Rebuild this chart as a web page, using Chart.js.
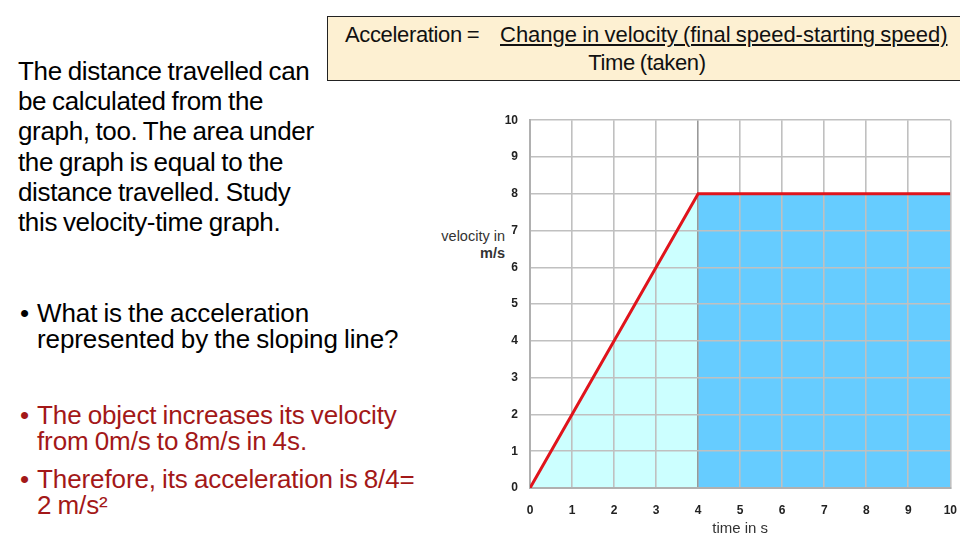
<!DOCTYPE html>
<html>
<head>
<meta charset="utf-8">
<script src="https://cdn.jsdelivr.net/npm/chart.js@4.4.1/dist/chart.umd.min.js"></script>
<style>
  body { margin: 0; width: 960px; height: 540px; overflow: hidden; background: #fff; font-family: "Liberation Sans", Arial, sans-serif; position: relative; }
  .txt { position: absolute; white-space: pre; font-size: 26px; letter-spacing: -0.35px; word-spacing: -1px; color: #000; }
  .blt { letter-spacing: -0.1px; }
  .red { color: #a31818; }
  .dot { position: absolute; left: -17px; top: 0; }
  #formula { position: absolute; left: 327px; top: 16px; width: 660px; height: 63px; background: #fdf0d2; border: 1px solid #222; }
  .ftxt { position: absolute; white-space: pre; font-size: 22px; letter-spacing: -0.35px; word-spacing: -1px; color: #111; line-height: 24px; }
  .ylab { position: absolute; font-size: 14.5px; color: #333; text-align: right; width: 120px; line-height: 17px; }
  #chart { position: absolute; left: 490px; top: 101px; }
</style>
</head>
<body>
<div class="txt" style="left:18px; top:56px; line-height:30.2px;">The distance travelled can
be calculated from the
graph, too. The area under
the graph is equal to the
distance travelled. Study
this velocity-time graph.</div>

<div class="txt blt" style="left:37px; top:300px; line-height:26px;"><span class="dot">•</span>What is the acceleration
represented by the sloping line?</div>

<div class="txt blt red" style="left:37px; top:402px; line-height:26px;"><span class="dot">•</span>The object increases its velocity
from 0m/s to 8m/s in 4s.</div>
<div class="txt blt red" style="left:37px; top:466px; line-height:26px;"><span class="dot">•</span>Therefore, its acceleration is 8/4=
2 m/s²</div>

<div id="formula">
  <div class="ftxt" style="left:17px; top:6px;">Acceleration =</div>
  <div class="ftxt" style="left:172px; top:6px; letter-spacing:0px; text-decoration: underline; text-decoration-thickness: 2px; text-underline-offset: 2px;">Change in velocity (final speed-starting speed)</div>
  <div class="ftxt" style="left:219px; top:34px; width:200px; text-align:center;">Time (taken)</div>
</div>

<div class="ylab" style="left:385px; top:228px;">velocity in</div>
<div class="ylab" style="left:385px; top:245px; font-weight:bold;">m/s</div>

<canvas id="chart" width="482" height="439"></canvas>

<script>
// velocity-time graph: speeds up for 4 s, then steady
const times = [0, 4, 10];
const velocities = [0, 8, 8];
const xTitle = 'time in s';

const toPoints = (from, to) => times.slice(from, to).map((t, i) => ({x: t, y: velocities[from + i]}));

const ctx = document.getElementById('chart').getContext('2d');

new Chart(ctx, {
  type: 'line',
  data: {
    datasets: [
      {
        label: 'velocity',
        data: toPoints(0, 3),
        borderColor: '#e0141c',
        borderWidth: 3,
        pointRadius: 0,
        fill: false,
        tension: 0,
      },
      {
        label: 'accelerating',
        data: toPoints(0, 2),
        borderWidth: 0,
        pointRadius: 0,
        backgroundColor: '#ccffff',
        fill: 'origin',
      },
      {
        label: 'steady',
        data: toPoints(1, 3),
        borderWidth: 0,
        pointRadius: 0,
        backgroundColor: '#66ccff',
        fill: 'origin',
      },
    ],
  },
  options: {
    responsive: false,
    animation: false,
    layout: { padding: { top: 9, right: 10, left: 0, bottom: 0 } },
    plugins: {
      legend: { display: false },
      tooltip: { enabled: false },
      filler: { drawTime: 'beforeDraw' },
    },
    scales: {
      x: {
        type: 'linear',
        min: 0,
        max: 10,
        ticks: { stepSize: 1, padding: 15, color: '#222', font: { family: 'Liberation Sans', size: 12, weight: 'bold' } },
        grid: {
          // edge of the blue area is a bit darker
          color: (c) => (c.tick && c.tick.value === times[1] ? '#999' : '#c0c0c0'),
          lineWidth: 1.6,
          drawTicks: false,
        },
        border: { color: '#b0b0b0', width: 2 },
        title: { display: true, text: xTitle, color: '#333', font: { family: 'Liberation Sans', size: 15 }, padding: { top: 0, bottom: 2 } },
        afterFit: (scale) => { scale.height = 52; },
      },
      y: {
        min: 0,
        max: 10,
        ticks: { stepSize: 1, padding: 12, color: '#222', font: { family: 'Liberation Sans', size: 12, weight: 'bold' } },
        grid: { color: '#c0c0c0', lineWidth: 1.6, drawTicks: false },
        border: { color: '#b0b0b0', width: 2 },
        afterFit: (scale) => { scale.width = 40; },
      },
    },
  },
});
</script>
</body>
</html>
